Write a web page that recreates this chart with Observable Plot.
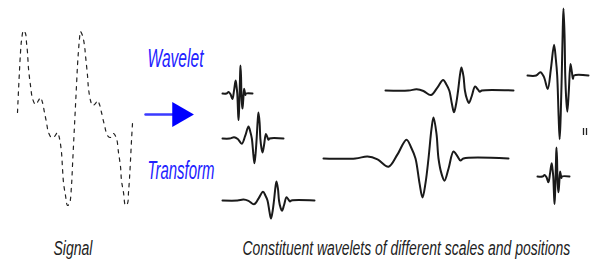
<!DOCTYPE html>
<html>
<head>
<meta charset="utf-8">
<script src="https://cdn.jsdelivr.net/npm/d3@7"></script>
<script src="https://cdn.jsdelivr.net/npm/@observablehq/plot@0.6"></script>
<style>
  html, body { margin: 0; padding: 0; background: #fff; }
  #chart { width: 596px; height: 263px; overflow: hidden; }
</style>
</head>
<body>
<div id="chart"></div>
<script>
// Signal trace (diagram units)
const signalX = [17,18,19,20,21,23,25,26,27,28,30,32,35,38,40,42,44,46,48,51,54,57,59,61,62,63,65,67,69,71,72,73,74,75,76,77,78,79,80,82,84,85,87,88,90,92,95,97,99,101,104,107,110,113,116,118,120,121,123,125,127,128,129,130,131,132];
const signalY = [112,90,70,52,40,30,33,42,52,68,85,98,104,100,97,102,112,122,132,137,136,132,138,152,168,182,195,205,203,185,165,145,125,105,85,65,50,38,31,35,45,55,75,88,100,105,103,100,104,112,125,135,137,133,138,152,166,180,192,205,203,192,178,160,140,123];

// Mother wavelet samples (offset from main peak, normalised amplitude)
const motherT = [-78,-66,-56,-45,-36,-27,-22,-18,-14,-11,-8,-5,-2,0,3,5,8,11,15,20,24,27,30];
const motherV = [0,0.05,-0.02,-0.2,0.1,0.46,0.25,0,-0.6,-0.95,-0.6,0,0.72,1,0.6,0,-0.37,-0.54,-0.25,0.17,0.05,-0.05,0];

// Constituent wavelets: translation (peak), baseline, scale, amplitude, extent
const waveletPeak  = [240, 258, 276, 461, 433, 563, 556];
const waveletBase  = [93, 138, 200, 90, 158, 75, 176];
const waveletScale = [0.18, 0.37, 0.5, 0.68, 1, 0.35, 0.18];
const waveletAmp   = [28, 26, 19, 23, 41, 67, 29];
const waveletStart = [222, 222, 222, 385, 323, 527, 537];
const waveletEnd   = [252, 283, 314, 513, 508, 588, 569];

// Labels
const labelText = ["Wavelet", "Transform", "Signal", "Constituent wavelets of different scales and positions"];
const labelX = [147, 147, 53, 242];
const labelY = [66, 178, 254, 254];

// Arrow
const arrowX = [145, 174];
const arrowY = [114, 114];
const arrowHeadX = [179];

// Trailing marks
const dotsX = [583, 586];

// ---- build tables ----
const signal = signalX.map((x, i) => ({x, y: signalY[i]}));
const wavelets = [];
waveletPeak.forEach((p, i) => {
  wavelets.push({id: i, x: waveletStart[i], y: waveletBase[i]});
  motherT.forEach((t, j) => {
    wavelets.push({id: i, x: p + t * waveletScale[i], y: waveletBase[i] - motherV[j] * waveletAmp[i]});
  });
  wavelets.push({id: i, x: waveletEnd[i], y: waveletBase[i]});
});
const labels = labelText.map((t, i) => ({t, x: labelX[i], y: labelY[i], i}));
const fontSizes = [25, 26, 21, 21];
const colors = ["#2222ff", "#2222ff", "#222", "#222"];
const lengths = [56, 67, 39, 328];

const plot = Plot.plot({
  width: 596,
  height: 263,
  margin: 0,
  x: {domain: [0, 596], axis: null},
  y: {domain: [263, 0], axis: null},
  style: {background: "#fff"},
  marks: [
    Plot.line(signal, {x: "x", y: "y", stroke: "#222", strokeWidth: 1.2, strokeDasharray: "3.5,5", curve: "catmull-rom"}),
    Plot.line(wavelets, {x: "x", y: "y", z: "id", stroke: "#1a1a1a", strokeWidth: 2, curve: "catmull-rom"}),
    Plot.line(arrowX.map((x, i) => ({x, y: arrowY[i]})), {x: "x", y: "y", stroke: "#3a3aff", strokeWidth: 2.5}),
    Plot.dot(arrowHeadX, {x: d => d, y: arrowY[0], symbol: "triangle", r: 9.3, rotate: 90, fill: "#0000ff", stroke: "none"}),
    Plot.ruleX(dotsX, {x: d => d, y1: 128, y2: 135, stroke: "#222", strokeWidth: 1.3}),
    Plot.text(labels, {x: "x", y: "y", text: "t", textAnchor: "start", lineAnchor: "bottom",
      fontSize: d => fontSizes[d.i], fill: d => colors[d.i], fontStyle: "italic",
      fontFamily: "'Liberation Sans', Arial, Helvetica, sans-serif"})
  ]
});

document.getElementById("chart").appendChild(plot);

// Condense the labels horizontally to the reference's narrow lettering
d3.select(plot).selectAll("g[aria-label='text'] text").each(function(_, k) {
  const el = d3.select(this);
  const w = this.getComputedTextLength();
  const s = lengths[k] / w;
  const tr = el.attr("transform");
  if (tr) {
    el.attr("transform", tr + ` scale(${s},1)`);
  } else {
    const x = +el.attr("x") || 0, y = +el.attr("y") || 0;
    el.attr("transform", `translate(${x},${y}) scale(${s},1) translate(${-x},${-y})`);
  }
});
</script>
</body>
</html>
